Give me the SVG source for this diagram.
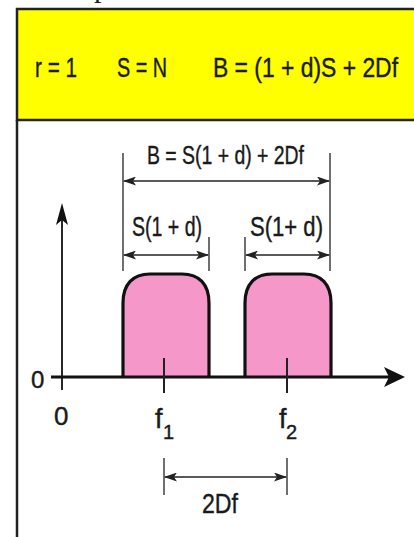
<svg xmlns="http://www.w3.org/2000/svg" width="414" height="537" viewBox="0 0 414 537">
<style>
text{font-family:"Liberation Sans Narrow","Liberation Sans",Arial,sans-serif;fill:#1a1a1a;stroke:#1a1a1a;stroke-width:0.4}
.dim{stroke:#222;stroke-width:1.7;fill:none}
.ext{stroke:#333;stroke-width:1.4;fill:none}
.bump{fill:#F597C8;stroke:none}
.bumpline{fill:none;stroke:#111;stroke-width:3.2;stroke-linejoin:round}
</style>
<defs>
<marker id="ah" viewBox="0 0 13 9" refX="12" refY="4.5" markerWidth="13" markerHeight="9" markerUnits="userSpaceOnUse" orient="auto-start-reverse">
<path d="M0,0 L13,4.5 L0,9 L3,4.5 Z" fill="#222"/>
</marker>
</defs>
<rect x="0" y="0" width="414" height="537" fill="#ffffff"/>
<text x="94" y="-3" style="font-family:'Liberation Serif',serif;font-size:30px;stroke:none">p</text>
<g id="header">
<rect x="17" y="9" width="410" height="111" fill="#FFFF00" stroke="#222" stroke-width="2.5"/>
<text x="35" y="77" font-size="28" textLength="42" lengthAdjust="spacingAndGlyphs">r = 1</text>
<text x="117" y="77" font-size="28" textLength="50" lengthAdjust="spacingAndGlyphs">S = N</text>
<text x="213" y="77" font-size="28" textLength="185" lengthAdjust="spacingAndGlyphs">B = (1 + d)S + 2Df</text>
</g>
<line x1="17" y1="120" x2="17" y2="537" stroke="#222" stroke-width="2.5"/>
<g id="bump1">
<path class="bump" d="M123,377 V303 C123,284 133,274 150,274 H182 C199,274 209,284 209,303 V377 Z"/>
<path class="bumpline" d="M123,377 V303 C123,284 133,274 150,274 H182 C199,274 209,284 209,303 V377"/>
</g>
<g id="bump2">
<path class="bump" d="M245,377 V303 C245,284 255,274 272,274 H304 C321,274 331,284 331,303 V377 Z"/>
<path class="bumpline" d="M245,377 V303 C245,284 255,274 272,274 H304 C321,274 331,284 331,303 V377"/>
</g>
<g id="axes">
<line x1="51" y1="377" x2="390" y2="377" stroke="#111" stroke-width="3"/>
<path d="M405,377 L384,367 L389,377 L384,387 Z" fill="#111"/>
<line x1="62" y1="390" x2="62" y2="218" stroke="#111" stroke-width="1.8"/>
<path d="M62,203 L56,225 L62,220 L68,225 Z" fill="#111"/>
<text x="31" y="388" font-size="24">0</text>
<text x="54" y="425" font-size="26">0</text>
</g>
<g id="f1">
<line x1="164" y1="358" x2="164" y2="393" stroke="#222" stroke-width="2"/>
<text x="155" y="428" font-size="27">f</text>
<text x="163" y="439" font-size="20">1</text>
</g>
<g id="f2">
<line x1="287" y1="358" x2="287" y2="393" stroke="#222" stroke-width="2"/>
<text x="279" y="428" font-size="27">f</text>
<text x="286" y="439" font-size="20">2</text>
</g>
<g id="connectors">
<line class="ext" x1="123" y1="153" x2="123" y2="271"/>
<line class="ext" x1="330" y1="153" x2="330" y2="271"/>
<line class="ext" x1="209" y1="237" x2="209" y2="271"/>
<line class="ext" x1="245" y1="237" x2="245" y2="271"/>
<line class="dim" x1="124" y1="181" x2="329" y2="181" marker-start="url(#ah)" marker-end="url(#ah)"/>
<line class="dim" x1="124" y1="255" x2="208" y2="255" marker-start="url(#ah)" marker-end="url(#ah)"/>
<line class="dim" x1="246" y1="255" x2="329" y2="255" marker-start="url(#ah)" marker-end="url(#ah)"/>
<line class="ext" x1="164" y1="458" x2="164" y2="495"/>
<line class="ext" x1="287" y1="458" x2="287" y2="495"/>
<line class="dim" x1="165" y1="477" x2="286" y2="477" marker-start="url(#ah)" marker-end="url(#ah)"/>
</g>
<g id="labels">
<text x="147" y="164" font-size="26" textLength="157" lengthAdjust="spacingAndGlyphs">B = S(1 + d) + 2Df</text>
<text x="132" y="236" font-size="27" textLength="70" lengthAdjust="spacingAndGlyphs">S(1 + d)</text>
<text x="250" y="236" font-size="27" textLength="73" lengthAdjust="spacingAndGlyphs">S(1+ d)</text>
<text x="202" y="513" font-size="28" textLength="36" lengthAdjust="spacingAndGlyphs">2Df</text>
</g>
</svg>
